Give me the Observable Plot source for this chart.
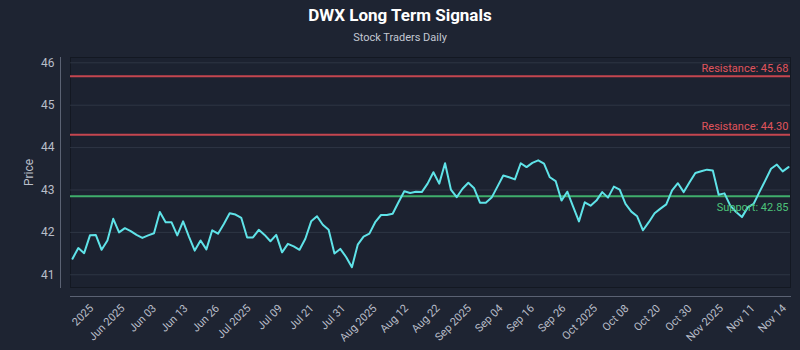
<!DOCTYPE html>
<html><head><meta charset="utf-8">
<script src="https://cdn.jsdelivr.net/npm/d3@7"></script>
<script src="https://cdn.jsdelivr.net/npm/@observablehq/plot@0.6"></script>
<style>
html,body{margin:0;padding:0;background:#1e2432;}
body{width:800px;height:350px;overflow:hidden;position:relative;font-family:Roboto,"Noto Sans",sans-serif;}
#title{position:absolute;left:0;width:800px;top:4px;text-align:center;color:#ffffff;font-size:17px;font-weight:bold;line-height:22px;}
#subtitle{position:absolute;left:0;width:800px;top:31px;text-align:center;color:#c3c8d2;font-size:11px;line-height:14px;}
#chart{position:absolute;left:0;top:50px;}
</style></head>
<body>
<div id="title">DWX Long Term Signals</div>
<div id="subtitle">Stock Traders Daily</div>
<div id="chart"></div>
<script>
const prices = [41.38,41.63,41.51,41.93,41.94,41.59,41.81,42.32,42.00,42.10,
42.03,41.94,41.87,41.93,41.98,42.48,42.24,42.24,41.93,42.26,
41.90,41.57,41.81,41.60,42.05,41.97,42.20,42.45,42.42,42.34,
41.88,41.88,42.06,41.94,41.79,41.94,41.53,41.73,41.67,41.59,
41.85,42.26,42.38,42.18,42.06,41.50,41.61,41.42,41.18,41.71,
41.90,41.97,42.24,42.41,42.41,42.44,42.71,42.97,42.93,42.96,
42.95,43.15,43.42,43.15,43.63,43.01,42.83,43.03,43.17,43.04,
42.70,42.70,42.82,43.08,43.34,43.30,43.25,43.63,43.54,43.64,
43.70,43.62,43.30,43.21,42.75,42.96,42.61,42.26,42.71,42.63,
42.75,42.95,42.82,43.08,43.01,42.67,42.49,42.38,42.05,42.24,
42.45,42.56,42.66,42.99,43.16,42.95,43.18,43.40,43.44,43.48,
43.46,42.89,42.92,42.63,42.48,42.36,42.59,42.67,42.95,43.22,
43.50,43.60,43.44,43.54];
const tickLabels = ["2025","Jun 2025","Jun 03","Jun 13","Jun 26","Jul 2025","Jul 09","Jul 21","Jul 31",
"Aug 2025","Aug 12","Aug 22","Sep 2025","Sep 04","Sep 16","Sep 26","Oct 2025","Oct 08","Oct 20","Oct 30",
"Nov 2025","Nov 11","Nov 14"];
const resistanceLevels = [45.68, 44.30];
const supportLevels = [42.85];
const yTicks = [41, 42, 43, 44, 45, 46];

const series = prices.map((p, i) => ({i, p}));
const res = resistanceLevels.map(v => ({v, label: `Resistance: ${v.toFixed(2)}`}));
const sup = supportLevels.map(v => ({v, label: `Support: ${v.toFixed(2)}`}));
const lastI = prices.length - 1;
const firstTick = 2.75, tickStep = 5.41;
const tickPos = tickLabels.map((_, k) => firstTick + k * tickStep);

const chart = Plot.plot({
  width: 800, height: 300,
  marginTop: 7, marginBottom: 63, marginLeft: 70, marginRight: 10,
  style: {background: "transparent", color: "#b9bec9", fontSize: "12px", fontFamily: "Roboto, 'Noto Sans', sans-serif"},
  x: {domain: [0, lastI], insetLeft: 2, insetRight: 2},
  y: {domain: [40.70, 46.125]},
  marks: [
    Plot.frame({fill: "#1c2230", stroke: "#131822", strokeOpacity: 1}),
    Plot.gridY(yTicks, {stroke: "#3a4252", strokeOpacity: 0.6}),
    Plot.ruleY(res, {y: "v", stroke: "#c4464f", strokeWidth: 2}),
    Plot.ruleY(sup, {y: "v", stroke: "#3fae6b", strokeWidth: 2}),
    Plot.line(series, {x: "i", y: "p", stroke: "#5fe3e8", strokeWidth: 2}),
    Plot.text(res, {x: () => lastI, y: "v", text: "label", textAnchor: "end", dy: -8, fill: "#e0545c", fontSize: 11}),
    Plot.text(sup, {x: () => lastI, y: "v", text: "label", textAnchor: "end", dy: 11, fill: "#4cc27a", fontSize: 11}),
    Plot.axisY({ticks: yTicks, tickFormat: d => String(d), tickSize: 0, tickPadding: 16, label: "Price", labelAnchor: "center", labelArrow: "none", labelOffset: 46, fontSize: 12}),
    Plot.axisX({ticks: tickPos, tickFormat: d => tickLabels[Math.round((d - firstTick) / tickStep)], tickRotate: -45, tickSize: 0, tickPadding: 19, dx: 3, label: null, fontSize: 11}),
    Plot.frame({anchor: "left", dx: -10, stroke: "#5b6273"}),
    Plot.frame({anchor: "bottom", dy: 9, stroke: "#5b6273"})
  ]
});
document.getElementById("chart").appendChild(chart);
</script>
</body></html>
